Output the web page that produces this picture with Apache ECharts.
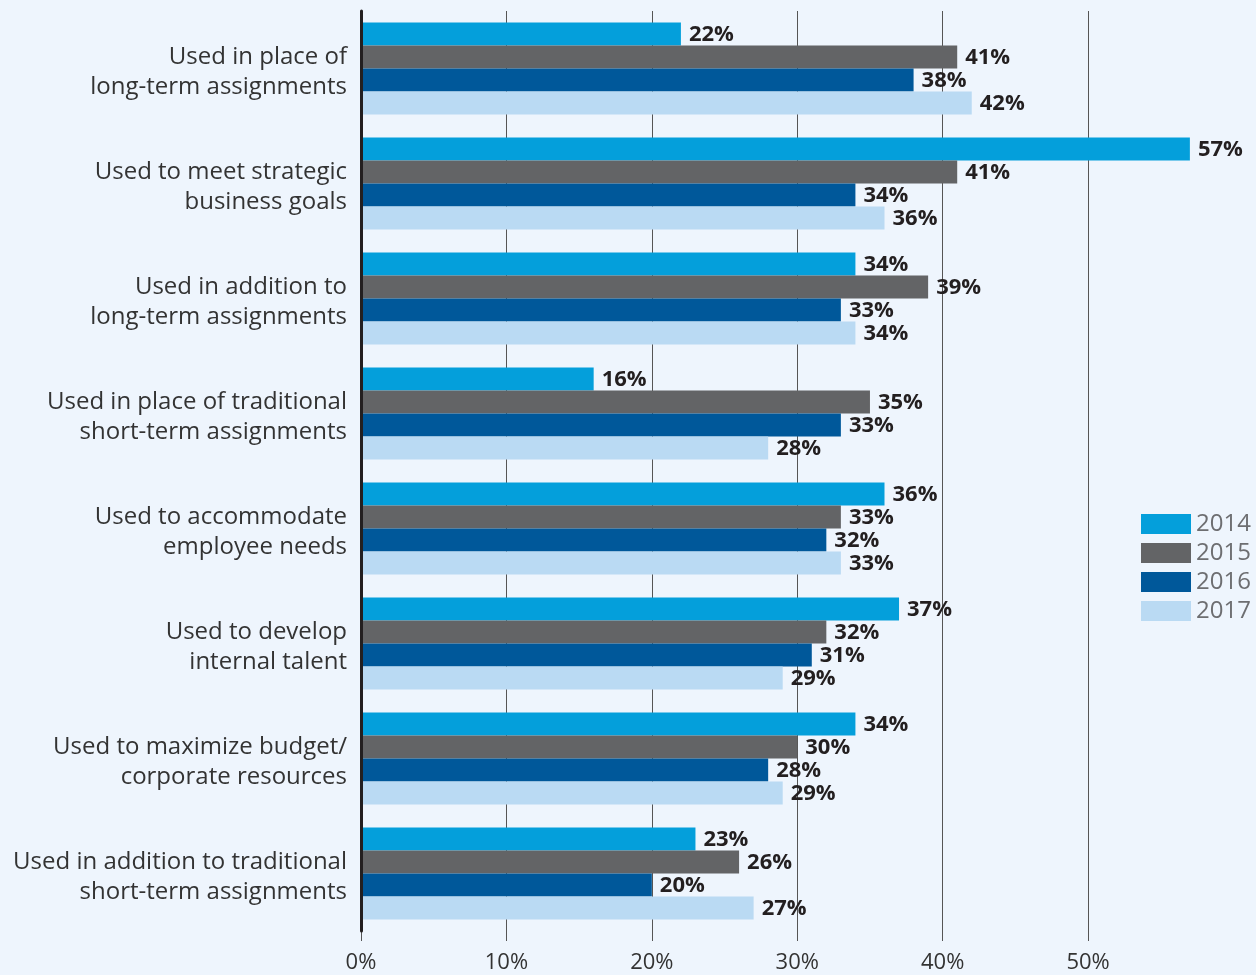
<!DOCTYPE html>
<html>
<head>
<meta charset="utf-8">
<script src="https://cdn.jsdelivr.net/npm/echarts@6/dist/echarts.min.js"></script>
<style>
  html, body { margin: 0; padding: 0; background: #eef5fd; }
  #chart { width: 1256px; height: 975px; }
</style>
</head>
<body>
<div id="chart"></div>
<script>
// Categories, top to bottom
const categories = [
  'Used in place of\nlong-term assignments',
  'Used to meet strategic\nbusiness goals',
  'Used in addition to\nlong-term assignments',
  'Used in place of traditional\nshort-term assignments',
  'Used to accommodate\nemployee needs',
  'Used to develop\ninternal talent',
  'Used to maximize budget/\ncorporate resources',
  'Used in addition to traditional\nshort-term assignments'
];

const years = ['2014', '2015', '2016', '2017'];

// Share of respondents (%) per year
const values2014 = [22, 57, 34, 16, 36, 37, 34, 23];
const values2015 = [41, 41, 39, 35, 33, 32, 30, 26];
const values2016 = [38, 34, 33, 33, 32, 31, 28, 20];
const values2017 = [42, 36, 34, 28, 33, 29, 29, 27];

const yearColors = ['#049fdb', '#636466', '#00589a', '#badaf3'];
const seriesValues = [values2014, values2015, values2016, values2017];

const chart = echarts.init(document.getElementById('chart'));

chart.setOption({
  backgroundColor: '#eef5fd',
  animation: false,
  grid: { left: 361, right: 22.5, top: 11, bottom: 44, containLabel: false },
  legend: {
    orient: 'vertical',
    left: 1136,
    top: 507,
    itemWidth: 50,
    itemHeight: 20,
    itemGap: 5,
    icon: 'rect',
    data: years,
    textStyle: { fontFamily: 'Open Sans', fontSize: 24, lineHeight: 22, color: '#6d6e71', padding: [0, 0, 0, 0] }
  },
  xAxis: {
    type: 'value',
    min: 0,
    max: 60,
    interval: 10,
    axisLine: { show: false },
    axisTick: { show: true, length: 10, lineStyle: { color: '#555', width: 1 } },
    splitLine: { show: true, showMinLine: false, showMaxLine: false, lineStyle: { color: '#555', width: 1 } },
    axisLabel: {
      showMaxLabel: false,
      margin: 21,
      fontFamily: 'Open Sans',
      fontSize: 22,
      color: '#333',
      formatter: '{value}%'
    }
  },
  yAxis: {
    type: 'category',
    inverse: true,
    data: categories,
    z: 10,
    axisLine: { show: true, lineStyle: { color: '#231f20', width: 3 } },
    axisTick: { show: false },
    axisLabel: {
      margin: 14,
      align: 'right',
      // a thin spacer line above the two text lines nudges the block slightly downward
      formatter: v => '{s| }\n' + v.split('\n').map(l => '{t|' + l + '}').join('\n'),
      rich: {
        s: { fontSize: 1, lineHeight: 8 },
        t: { fontFamily: 'Open Sans', fontSize: 24, lineHeight: 30, color: '#333', align: 'right' }
      }
    }
  },
  series: years.map((y, i) => ({
    name: y,
    type: 'bar',
    data: seriesValues[i],
    barWidth: 23,
    barGap: '0%',
    barCategoryGap: '20%',
    itemStyle: { color: yearColors[i] },
    z: 3,
    label: {
      show: true,
      position: 'right',
      distance: 8,
      offset: [0, 1],
      formatter: '{c}%',
      fontFamily: 'Open Sans',
      fontWeight: 'bold',
      fontSize: 22,
      color: '#231f20'
    }
  }))
});
</script>
</body>
</html>
